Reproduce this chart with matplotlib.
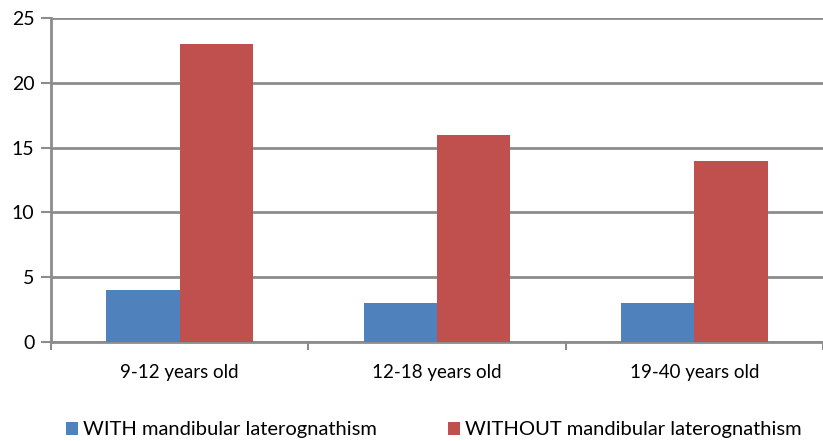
import matplotlib.pyplot as plt
import numpy as np

categories = ["9-12 years old", "12-18 years old", "19-40 years old"]
with_lat = [4, 3, 3]
without_lat = [23, 16, 14]
series_labels = ["WITH mandibular laterognathism", "WITHOUT mandibular laterognathism"]
y_ticks = [0, 5, 10, 15, 20, 25]

plt.rcParams["font.family"] = ["Lato", "DejaVu Sans"]

grid_col = "#8c8c8c"
blue = "#4F81BD"
red = "#C0504D"

fig = plt.figure(figsize=(8.23, 4.41), dpi=100)
ax = fig.add_axes([51 / 823, 99 / 441, 772 / 823, 324 / 441])

x = np.arange(len(categories))
w = 74 / 260
ax.bar(x - w / 2, with_lat, width=w, color=blue, label=series_labels[0], zorder=3)
ax.bar(x + w / 2, without_lat, width=w, color=red, label=series_labels[1], zorder=3)

ax.set_xlim(-0.5, -0.5 + 772 / 260)
ax.set_ylim(0, 25)
ax.set_yticks(y_ticks)
ax.yaxis.grid(True, color=grid_col, linewidth=2, zorder=0)

ax.set_xticks(x)
ax.set_xticklabels(categories, fontsize=13.5)
ax.tick_params(axis="x", length=0, pad=16)
ax.set_xticks(np.arange(len(categories) + 1) - 0.5, minor=True)
ax.tick_params(axis="x", which="minor", length=6, width=1.5, color=grid_col)
ax.tick_params(axis="y", length=7, width=1.5, color=grid_col, labelsize=14, pad=5)

for side in ["top", "right"]:
    ax.spines[side].set_visible(False)
for side in ["left", "bottom"]:
    ax.spines[side].set_color(grid_col)
    ax.spines[side].set_linewidth(2)

fig.legend(loc="center left", bbox_to_anchor=(48 / 823, 11 / 441), ncol=2, frameon=False,
           fontsize=14.5, handlelength=0.6, handleheight=0.6, handletextpad=0.25,
           columnspacing=3.5)

fig.savefig("out.png", dpi=100)
